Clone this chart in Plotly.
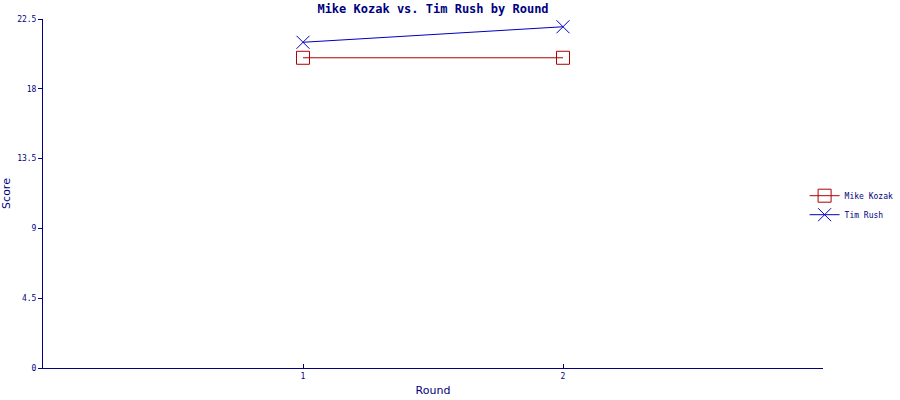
import plotly.graph_objects as go

rounds = [1, 2]
mike_kozak = [20, 20]
tim_rush = [21, 22]
y_ticks = [0, 4.5, 9, 13.5, 18, 22.5]
y_tick_labels = ["0", "4.5", "9", "13.5", "18", "22.5"]

navy = "#000080"
mono = "DejaVu Sans Mono"

fig = go.Figure()
fig.add_trace(go.Scatter(
    x=rounds, y=mike_kozak, name="Mike Kozak", mode="lines+markers",
    line=dict(color="#b00000", width=1),
    marker=dict(symbol="square-open", size=13, color="#b00000", line=dict(width=1)),
))
fig.add_trace(go.Scatter(
    x=rounds, y=tim_rush, name="Tim Rush", mode="lines+markers",
    line=dict(color="#0000c0", width=1),
    marker=dict(symbol="x-thin-open", size=13, color="#0000c0", line=dict(width=1, color="#0000c0")),
))

fig.update_layout(
    width=900, height=400,
    margin=dict(l=43, r=77, t=19, b=32, autoexpand=False),
    paper_bgcolor="white", plot_bgcolor="white",
    title=dict(text="<b>Mike Kozak vs. Tim Rush by Round</b>", x=0.5, xref="paper",
               y=0.978, yref="container", yanchor="middle",
               font=dict(family=mono, size=12, color=navy)),
    legend=dict(x=0.894, xref="container", xanchor="left", y=0.487, yref="container", yanchor="middle",
                font=dict(family=mono, size=8, color=navy),
                itemwidth=30, tracegroupgap=0, bgcolor="rgba(0,0,0,0)"),
    xaxis=dict(range=[0, 3], tickvals=rounds, ticktext=[str(r) for r in rounds],
               showgrid=False, zeroline=False, showline=True, linecolor=navy, linewidth=1,
               ticks="inside", ticklen=4, tickcolor=navy, automargin=False,
               tickfont=dict(family=mono, size=8, color=navy),
               title=dict(text="Round", font=dict(family="DejaVu Sans", size=11, color=navy), standoff=6)),
    yaxis=dict(range=[0, 22.5], tickvals=y_ticks, ticktext=y_tick_labels,
               showgrid=False, zeroline=False, showline=True, linecolor=navy, linewidth=1,
               ticks="outside", ticklen=4, tickcolor=navy, automargin=False,
               tickfont=dict(family=mono, size=8, color=navy),
               title=dict(text="Score", font=dict(family="DejaVu Sans", size=11, color=navy), standoff=6)),
)

fig.write_html("out.html")
